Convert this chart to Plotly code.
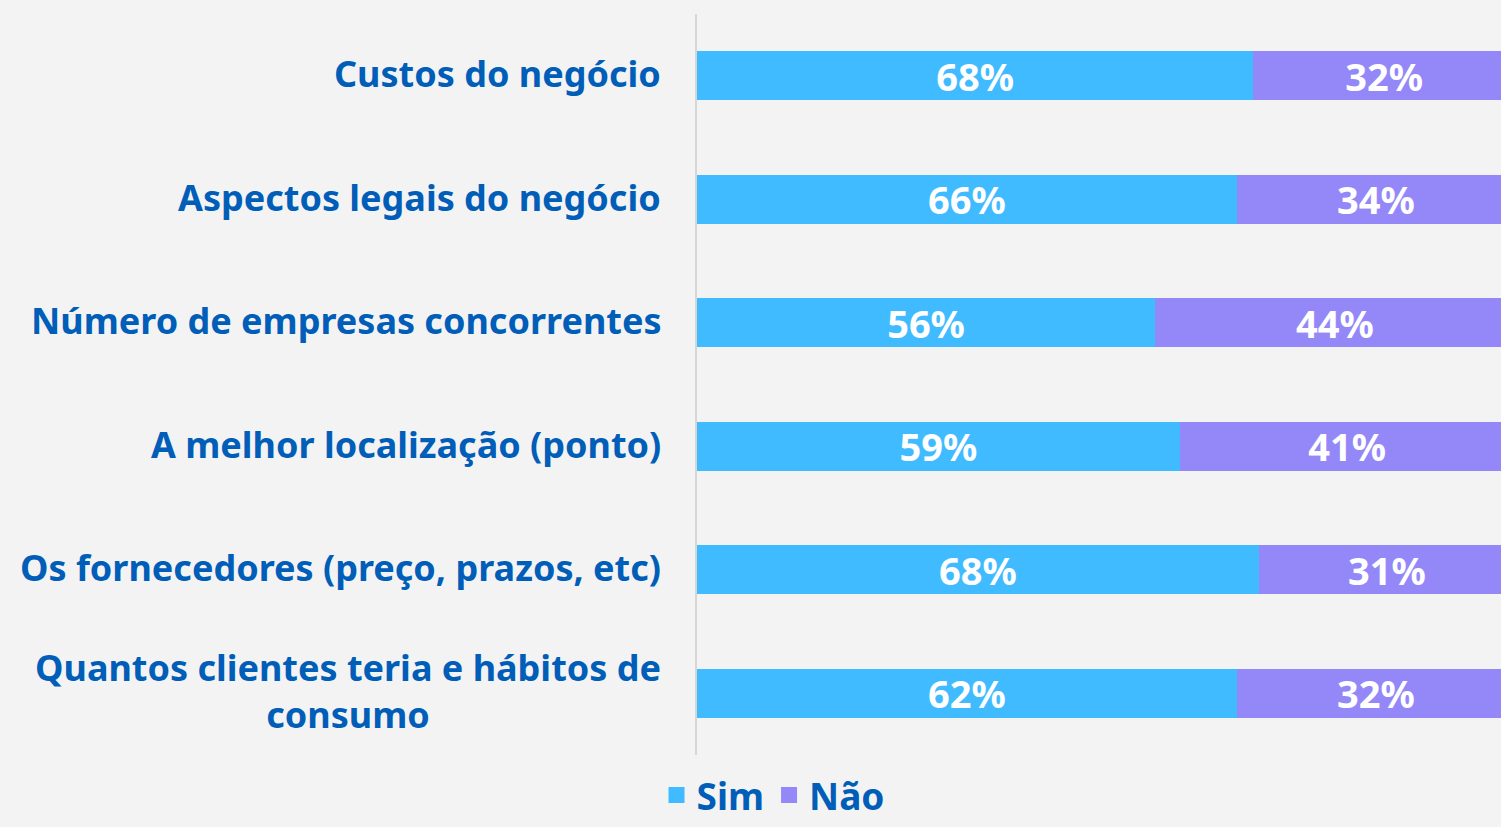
import plotly.graph_objects as go

categories = [
    "Custos do negócio",
    "Aspectos legais do negócio",
    "Número de empresas concorrentes",
    "A melhor localização (ponto)",
    "Os fornecedores (preço, prazos, etc)",
    "Quantos clientes teria e hábitos de<br>consumo",
]
sim_values = [68, 66, 56, 59, 68.7, 66]
nao_values = [32, 34, 44, 41, 31.3, 34]
sim_labels = ["68%", "66%", "56%", "59%", "68%", "62%"]
nao_labels = ["32%", "34%", "44%", "41%", "31%", "32%"]

BLUE = "#41BBFF"
PURPLE = "#9488F9"
TEXT = "#005EB8"
BG = "#F3F3F3"
FONT = "Noto Sans"

fig = go.Figure()

fig.add_trace(go.Bar(
    y=categories, x=sim_values, orientation="h", name="Sim",
    marker=dict(color=BLUE, line=dict(width=0)),
    text=sim_labels, textposition="inside", insidetextanchor="middle",
    constraintext="none",
    textfont=dict(color="white", size=38, family=FONT, weight="bold"),
    width=0.4, showlegend=False,
))
fig.add_trace(go.Bar(
    y=categories, x=nao_values, orientation="h", name="Não",
    marker=dict(color=PURPLE, line=dict(width=0)),
    text=nao_labels, textposition="inside", insidetextanchor="middle",
    constraintext="none",
    textfont=dict(color="white", size=38, family=FONT, weight="bold"),
    width=0.4, showlegend=False,
))

# legend entries with larger squares
for name, color in [("Sim", BLUE), ("Não", PURPLE)]:
    fig.add_trace(go.Scatter(
        x=[None], y=[None], mode="markers", name=name,
        marker=dict(symbol="square", size=21, color=color),
    ))

# category labels as annotations so wrapped lines stay centred
for cat in categories:
    fig.add_annotation(
        x=0, xref="paper", y=cat, yref="y",
        text=cat, showarrow=False, xanchor="right", xshift=-34, yshift=2,
        align="center",
        font=dict(size=36, color=TEXT, family=FONT, weight="bold"),
    )

fig.update_layout(
    barmode="stack",
    width=1501, height=827,
    paper_bgcolor=BG, plot_bgcolor=BG,
    margin=dict(l=697, r=0, t=14, b=72),
    font=dict(family=FONT, color=TEXT),
    xaxis=dict(range=[0, 98.3], visible=False, fixedrange=True),
    yaxis=dict(
        autorange="reversed", showticklabels=False, showgrid=False,
        showline=True, linecolor="#D6D6D6", linewidth=2,
        ticks="", zeroline=False,
    ),
    legend=dict(
        orientation="h", xref="container", x=0.515, xanchor="center",
        yref="container", y=0.038, yanchor="middle",
        traceorder="normal",
        font=dict(size=37, color=TEXT, family=FONT, weight="bold"),
        bgcolor="rgba(0,0,0,0)", itemwidth=30, tracegroupgap=0,
    ),
)

fig.write_html(
    "out.html",
    config={"displayModeBar": False},
    post_script="document.body.style.margin='0';",
)
